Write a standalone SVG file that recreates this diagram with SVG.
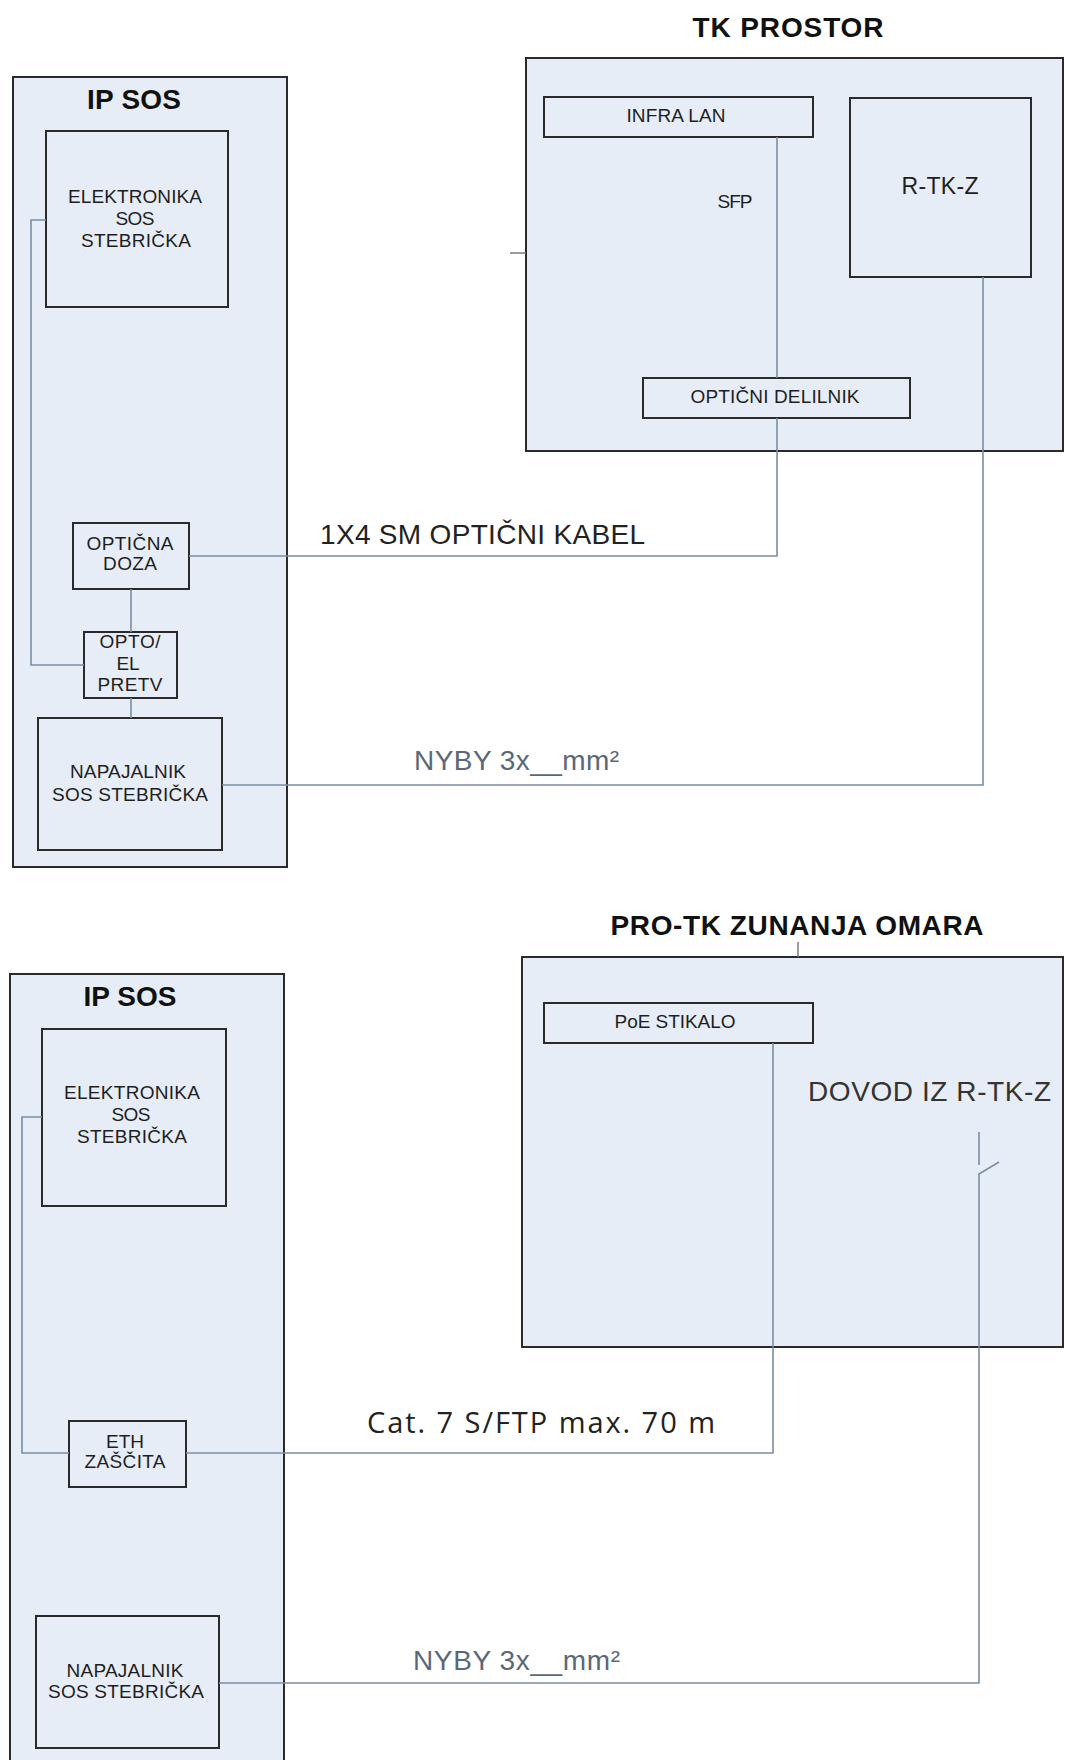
<svg xmlns="http://www.w3.org/2000/svg" width="1065" height="1760" viewBox="0 0 1065 1760">
<style>
.bg{fill:#ffffff}
.box{fill:#e7edf6;stroke:#2a2a2a;stroke-width:2}
.con{fill:none;stroke:#7a8ea4;stroke-width:1.6}
.tick{fill:none;stroke:#6d7278;stroke-width:1.4}
.t{font-family:"Liberation Sans",Arial,sans-serif;font-size:19px;fill:#1e1e1e;text-anchor:middle}
.ttl{font-family:"Liberation Sans",Arial,sans-serif;font-size:28px;font-weight:bold;fill:#111;text-anchor:middle}
.big{font-family:"Liberation Sans",Arial,sans-serif;font-size:28px;fill:#222}
.cab{font-family:"Liberation Sans",Arial,sans-serif;font-size:28px;fill:#5a6878}
.cat{font-family:"Open Sans","Noto Sans",sans-serif;font-size:29px;fill:#222}
</style>
<rect class="bg" x="0" y="0" width="1065" height="1760"/>

<!-- ===== TOP SECTION ===== -->
<g id="ip-sos-1">
  <rect class="box" x="13" y="77" width="274" height="790"/>
  <text class="ttl" x="134" y="109" textLength="94">IP SOS</text>
</g>
<g id="tk-prostor">
  <rect class="box" x="526" y="58" width="537" height="393"/>
  <text class="ttl" x="788" y="37" textLength="191">TK PROSTOR</text>
  <line class="tick" x1="510" y1="253" x2="526" y2="253"/>
</g>
<g id="elektronika-1">
  <rect class="box" x="46" y="131" width="182" height="176"/>
  <text class="t" x="135" y="203" textLength="134">ELEKTRONIKA</text>
  <text class="t" x="135" y="225" textLength="39">SOS</text>
  <text class="t" x="136" y="247" textLength="110">STEBRIČKA</text>
</g>
<g id="opticna-doza">
  <rect class="box" x="73" y="523" width="116" height="66"/>
  <text class="t" x="130" y="550" textLength="87">OPTIČNA</text>
  <text class="t" x="130" y="570" textLength="54">DOZA</text>
</g>
<g id="opto-el">
  <rect class="box" x="84" y="632" width="93" height="66"/>
  <text class="t" x="130" y="648" textLength="61">OPTO/</text>
  <text class="t" x="128" y="670" textLength="23">EL</text>
  <text class="t" x="130" y="691" textLength="65">PRETV</text>
</g>
<g id="napajalnik-1">
  <rect class="box" x="38" y="718" width="184" height="132"/>
  <text class="t" x="128" y="778" textLength="116">NAPAJALNIK</text>
  <text class="t" x="130" y="801" textLength="156">SOS STEBRIČKA</text>
</g>
<g id="infra-lan">
  <rect class="box" x="544" y="97" width="269" height="40"/>
  <text class="t" x="676" y="122" textLength="99">INFRA LAN</text>
</g>
<g id="r-tk-z">
  <rect class="box" x="850" y="98" width="181" height="179"/>
  <text class="t" x="940" y="194" style="font-size:23px" textLength="77">R-TK-Z</text>
</g>
<g id="opticni-delilnik">
  <rect class="box" x="643" y="378" width="267" height="40"/>
  <text class="t" x="775" y="403" textLength="169">OPTIČNI DELILNIK</text>
</g>

<!-- ===== BOTTOM SECTION ===== -->
<g id="ip-sos-2">
  <rect class="box" x="10" y="974" width="274" height="800"/>
  <text class="ttl" x="130" y="1006" textLength="93">IP SOS</text>
</g>
<g id="pro-tk">
  <rect class="box" x="522" y="957" width="541" height="390"/>
  <text class="ttl" x="797" y="935" textLength="373">PRO-TK ZUNANJA OMARA</text>
  <line class="tick" x1="798" y1="942" x2="798" y2="957"/>
</g>
<g id="elektronika-2">
  <rect class="box" x="42" y="1029" width="184" height="177"/>
  <text class="t" x="132" y="1099" textLength="136">ELEKTRONIKA</text>
  <text class="t" x="131" y="1121" textLength="39">SOS</text>
  <text class="t" x="132" y="1143" textLength="110">STEBRIČKA</text>
</g>
<g id="eth-zascita">
  <rect class="box" x="69" y="1421" width="117" height="66"/>
  <text class="t" x="125" y="1448" textLength="38">ETH</text>
  <text class="t" x="125" y="1468" textLength="81">ZAŠČITA</text>
</g>
<g id="napajalnik-2">
  <rect class="box" x="36" y="1616" width="183" height="132"/>
  <text class="t" x="125" y="1677" textLength="117">NAPAJALNIK</text>
  <text class="t" x="126" y="1698" textLength="156">SOS STEBRIČKA</text>
</g>
<g id="poe-stikalo">
  <rect class="box" x="544" y="1003" width="269" height="40"/>
  <text class="t" x="675" y="1028" textLength="121">PoE STIKALO</text>
</g>

<!-- ===== CONNECTORS ===== -->
<g id="connectors">
  <path class="con" d="M46,220 H31 V665 H84"/>
  <path class="con" d="M131,589 V632"/>
  <path class="con" d="M131,698 V718"/>
  <path class="con" d="M777,137 V378"/>
  <path class="con" d="M189,556 H777 V418"/>
  <path class="con" d="M222,785 H983 V277"/>
  <path class="con" d="M42,1117 H22 V1453 H69"/>
  <path class="con" d="M186,1453 H773 V1043"/>
  <path class="con" d="M979,1132 V1165"/>
  <path class="con" d="M999,1162 L979,1174 V1683 H219"/>
</g>

<g id="labels">
  <text class="t" x="735" y="208" textLength="35">SFP</text>
  <text class="big" x="320" y="544" textLength="325">1X4 SM OPTIČNI KABEL</text>
  <text class="cab" x="414" y="770" textLength="205">NYBY 3x__mm²</text>
  <text class="big" x="808" y="1101" style="fill:#333" textLength="243">DOVOD IZ R-TK-Z</text>
  <text class="cat" x="367" y="1433" textLength="348">Cat. 7 S/FTP max. 70  m</text>
  <text class="cab" x="413" y="1670" textLength="207">NYBY 3x__mm²</text>
</g>
</svg>
